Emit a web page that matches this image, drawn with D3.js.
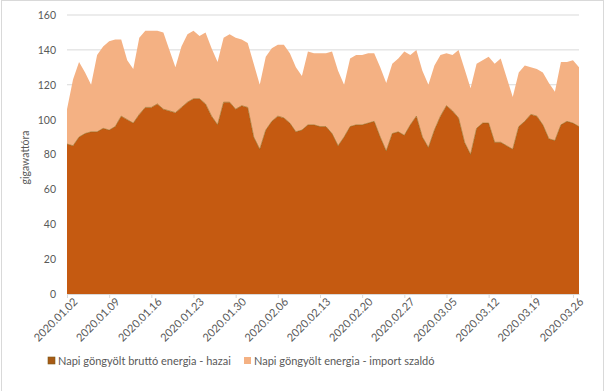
<!DOCTYPE html>
<html>
<head>
<meta charset="utf-8">
<script src="https://cdn.jsdelivr.net/npm/d3@7"></script>
<style>
  body { margin: 0; background: #fff; }
  svg text { font-family: Lato, "Open Sans", sans-serif; fill: #595959; }
</style>
</head>
<body>
<div id="chart"></div>
<script>
const START_DATE = '2020-01-02';
const DAY_COUNT = 86;

// Napi göngyölt bruttó energia - hazai (GWh)
const hazai = [
  86, 85, 90, 92, 93, 93, 95, 94, 96, 102,
  100, 98, 103, 107, 107, 109, 106, 105, 104, 107,
  110, 112, 112, 109, 102, 97, 110, 110, 106, 108,
  107, 90, 83, 94, 99, 102, 101, 98, 93, 94,
  97, 97, 96, 96, 92, 85, 90, 96, 97, 97,
  98, 99, 90, 82, 92, 93, 91, 97, 102, 90,
  84, 94, 102, 108, 105, 101, 87, 80, 95, 98,
  98, 87, 87, 85, 83, 96, 99, 103, 102, 97,
  89, 88, 97, 99, 98, 96
];

// Napi göngyölt energia - import szaldó (GWh)
const importSzaldo = [
  20, 38, 43, 35, 27, 44, 47, 51, 50, 44,
  34, 31, 44, 44, 44, 42, 44, 35, 26, 35,
  39, 39, 36, 41, 39, 36, 37, 39, 41, 38,
  37, 42, 37, 42, 42, 41, 42, 40, 37, 31,
  42, 41, 42, 42, 47, 43, 30, 39, 40, 40,
  40, 39, 40, 39, 40, 42, 48, 40, 38, 38,
  36, 37, 35, 30, 32, 39, 42, 38, 37, 36,
  38, 45, 48, 39, 30, 31, 32, 27, 27, 30,
  32, 28, 36, 34, 36, 34
];

const seriesNames = ['Napi göngyölt bruttó energia - hazai', 'Napi göngyölt energia - import szaldó'];
const yTicks = [0, 20, 40, 60, 80, 100, 120, 140, 160];

const W = 605, H = 391;
const margin = { top: 15, right: 26, bottom: 97, left: 67 };
const colors = ['#C55A11', '#F4B183'];

const parse = d3.timeParse('%Y-%m-%d');
const fmt = d3.timeFormat('%Y.%m.%d');
const start = parse(START_DATE);
const dates = d3.range(DAY_COUNT).map(i => d3.timeDay.offset(start, i));

const rows = dates.map((d, i) => ({ date: d, hazai: hazai[i], imp: importSzaldo[i] }));
const stacked = d3.stack().keys(['hazai', 'imp'])(rows);

const svg = d3.select('#chart').append('svg')
  .attr('width', W)
  .attr('height', H);

// outer chart border
svg.append('rect')
  .attr('x', 1.5).attr('y', 0.5)
  .attr('width', W - 3).attr('height', H + 10)
  .attr('fill', 'none')
  .attr('stroke', '#d9d9d9');

const x = d3.scaleTime()
  .domain(d3.extent(dates))
  .range([margin.left, W - margin.right]);

const y = d3.scaleLinear()
  .domain([0, 160])
  .range([H - margin.bottom, margin.top]);

// gridlines
svg.append('g')
  .selectAll('line')
  .data(yTicks.slice(1))
  .join('line')
  .attr('x1', margin.left).attr('x2', W - margin.right)
  .attr('y1', d => y(d)).attr('y2', d => y(d))
  .attr('stroke', '#d9d9d9')
  .attr('stroke-width', 1);

const area = d3.area()
  .x(d => x(d.data.date))
  .y0(d => y(d[0]))
  .y1(d => y(d[1]));

svg.append('g')
  .selectAll('path')
  .data(stacked)
  .join('path')
  .attr('fill', (d, i) => colors[i])
  .attr('d', area);

// thin outline on the domestic series like the original
svg.append('path')
  .datum(stacked[0])
  .attr('fill', 'none')
  .attr('stroke', '#8f6418')
  .attr('stroke-width', 0.6)
  .attr('d', d3.line().x(d => x(d.data.date)).y(d => y(d[1])));

// y axis
const yAxis = svg.append('g')
  .attr('transform', `translate(${margin.left},0)`)
  .call(d3.axisLeft(y).tickValues(yTicks).tickSize(0).tickPadding(11));
yAxis.select('.domain').remove();
yAxis.selectAll('text').attr('font-size', 10.5).style('font-family', 'Lato, sans-serif');

// x axis, one tick per week
const weekTicks = dates.filter((d, i) => i % 7 === 0);
const xAxis = svg.append('g')
  .attr('transform', `translate(0,${y(0)})`)
  .call(d3.axisBottom(x).tickValues(weekTicks).tickFormat(fmt).tickSize(4).tickSizeOuter(0));
xAxis.select('.domain').attr('stroke', '#d9d9d9');
xAxis.selectAll('.tick line').attr('stroke', '#d9d9d9');
xAxis.selectAll('text')
  .attr('font-size', 11)
  .attr('text-anchor', 'end')
  .attr('dx', '0.15em')
  .attr('dy', '0.6em')
  .attr('transform', 'rotate(-45)');

// y axis title
svg.append('text')
  .attr('transform', `translate(29,${(margin.top + y(0)) / 2 + 3}) rotate(-90)`)
  .attr('text-anchor', 'middle')
  .attr('font-size', 10.5)
  .text('gigawattóra');

// legend
const legend = svg.append('g').attr('transform', 'translate(48,357)');
const legendX = [0, 196];
seriesNames.forEach((name, i) => {
  const g = legend.append('g').attr('transform', `translate(${legendX[i]},0)`);
  g.append('rect')
    .attr('width', 7).attr('height', 7)
    .attr('fill', i === 0 ? '#a85a15' : colors[1])
    .attr('stroke', i === 0 ? '#7a5a1a' : 'none')
    .attr('stroke-width', 0.6);
  g.append('text')
    .attr('x', 10).attr('y', 7.5)
    .attr('font-size', 11)
    .text(name);
});
</script>
</body>
</html>
